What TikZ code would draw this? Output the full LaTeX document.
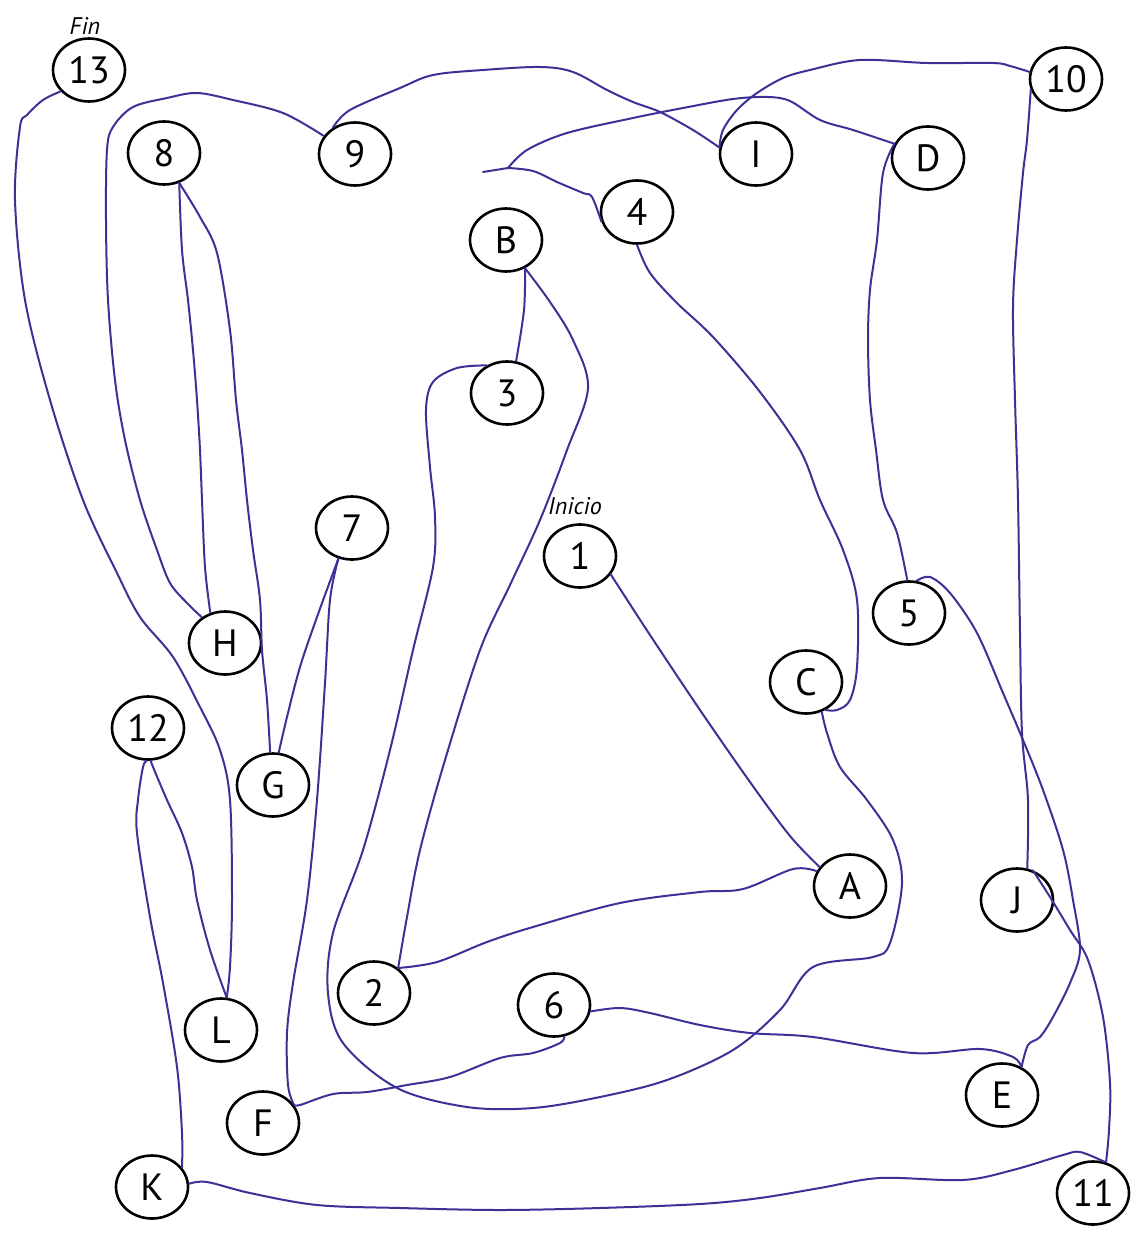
\documentclass[tikz,border=0pt]{standalone}
\usepackage{fontspec}
\setmainfont{PT Sans}
\usetikzlibrary{shapes.geometric}
\definecolor{ink}{RGB}{58,50,150}
\begin{document}
\begin{tikzpicture}[x=1pt,y=-1pt,
  circ/.style={draw=black,line width=2.6pt,ellipse,inner sep=0pt,minimum width=72pt,minimum height=63pt,font=\fontsize{38}{38}\selectfont},
  lbl/.style={font=\itshape\fontsize{24}{24}\selectfont,inner sep=0pt},
  pen/.style={draw=ink,line width=2pt,line cap=round,line join=round}]
\useasboundingbox[fill=white] (0,0) rectangle (1136,1236);
% nodes
\node[circ] (n13) at (89,70) {13};
\node[circ] (n8) at (164,153) {8};
\node[circ] (n9) at (355,154) {9};
\node[circ] (nI) at (756,154) {I};
\node[circ] (nD) at (928,158) {D};
\node[circ] (n10) at (1066,79) {10};
\node[circ] (n4) at (637,212) {4};
\node[circ] (nB) at (506,240) {B};
\node[circ] (n3) at (507,393) {3};
\node[circ] (n7) at (352,528) {7};
\node[circ] (n1) at (580,556) {1};
\node[circ] (n5) at (909,613) {5};
\node[circ] (nH) at (225,643) {H};
\node[circ] (nC) at (806,682) {C};
\node[circ] (n12) at (148,728) {12};
\node[circ] (nG) at (273,785) {G};
\node[circ] (nA) at (850,886) {A};
\node[circ] (nJ) at (1017,900) {J};
\node[circ] (n2) at (374,993) {2};
\node[circ] (n6) at (554,1005) {6};
\node[circ] (nL) at (221,1030) {L};
\node[circ] (nE) at (1002,1095) {E};
\node[circ] (nF) at (263,1123) {F};
\node[circ] (nK) at (152,1187) {K};
\node[circ] (n11) at (1093,1193) {11};
\node[lbl] (fin) at (85,26) {Fin};
\node[lbl] (inicio) at (575,506) {Inicio};
\coordinate (j4) at (508,168);
\coordinate (t4) at (483,172);
% path
\draw[pen] plot[smooth,tension=0.55] coordinates {(n1.-31) (650,635) (700,710) (750,782) (790,836) (nA.148)};
\draw[pen] plot[smooth,tension=0.55] coordinates {(nA.156) (793,869) (743,889) (700,892) (620,903) (533,927) (487,942) (437,962) (n2.46)};
\draw[pen] plot[smooth,tension=0.55] coordinates {(n2.46) (407,917) (420,850) (445,760) (480,650) (510,585) (540,520) (567,450) (588,388) (573,340) (550,302) (nB.-56)};
\draw[pen] plot[smooth,tension=0.55] coordinates {(nB.-56) (524,310) (n3.74)};
\draw[pen] plot[smooth,tension=0.55] coordinates {(n3.126) (457,368) (433,382) (426,410) (430,467) (435,517) (433,567) (413,650) (390,750) (363,850) (333,933) (328,993) (343,1043) (397,1088) (467,1107) (533,1108) (600,1097) (667,1080) (733,1050) (780,1010) (813,967) (873,957) (890,943) (902,883) (893,840) (867,800) (840,767) (827,733) (nC.-62)};
\draw[pen] plot[smooth,tension=0.55] coordinates {(nC.-55) (837,710) (850,700) (857,667) (857,600) (843,550) (820,500) (800,450) (760,392) (713,337) (677,303) (650,273) (n4.-90)};
\draw[pen] plot[smooth,tension=0.55] coordinates {(n4.195) (592,197) (583,193) (557,182) (533,171) (j4)};
\draw[pen] (j4) -- (t4);
\draw[pen] plot[smooth,tension=0.55] coordinates {(j4) (527,150) (567,133) (633,118) (683,108) (733,99) (767,97) (790,101) (820,120) (853,130) (nD.157)};
\draw[pen] plot[smooth,tension=0.55] coordinates {(nD.157) (883,173) (877,240) (870,290) (868,340) (870,400) (876,450) (883,500) (897,533) (n5.93)};
\draw[pen] plot[smooth,tension=0.55] coordinates {(n5.77) (930,577) (950,593) (977,633) (1003,693) (1023,740) (1043,790) (1063,850) (1073,900) (1080,950) (1070,983) (1053,1017) (1040,1037) (1028,1045) (nE.55)};
\draw[pen] plot[smooth,tension=0.55] coordinates {(nE.55) (1013,1057) (980,1049) (913,1053) (813,1037) (750,1033) (700,1025) (650,1013) (620,1008) (n6.-10)};
\draw[pen] plot[smooth,tension=0.55] coordinates {(n6.-72) (560,1043) (533,1053) (500,1058) (450,1077) (407,1085) (367,1092) (333,1094) (300,1105) (nF.31)};
\draw[pen] plot[smooth,tension=0.55] coordinates {(nF.31) (288,1085) (287,1033) (293,983) (307,900) (317,800) (325,683) (330,600) (n7.-114)};
\draw[pen] plot[smooth,tension=0.55] coordinates {(n7.-114) (317,617) (300,667) (287,717) (nG.80)};
\draw[pen] plot[smooth,tension=0.55] coordinates {(nG.95) (267,700) (262,650) (260,600) (253,550) (247,500) (242,450) (236,400) (230,330) (217,253) (200,217) (n8.-63)};
\draw[pen] plot[smooth,tension=0.55] coordinates {(n8.-63) (182,250) (188,300) (193,350) (197,400) (200,450) (202,500) (205,567) (nH.116)};
\draw[pen] plot[smooth,tension=0.55] coordinates {(nH.132) (187,603) (170,583) (157,550) (140,500) (125,440) (115,380) (108,300) (106,220) (107,150) (113,127) (133,107) (167,98) (197,93) (233,100) (283,113) (n9.150)};
\draw[pen] plot[smooth,tension=0.55] coordinates {(n9.130) (350,110) (400,88) (433,75) (483,70) (540,67) (573,72) (607,90) (633,102) (660,112) (693,130) (nI.170)};
\draw[pen] plot[smooth,tension=0.55] coordinates {(nI.170) (723,130) (737,110) (757,93) (783,78) (810,70) (860,60) (927,63) (993,63) (1010,66) (n10.169)};
\draw[pen] plot[smooth,tension=0.55] coordinates {(n10.197) (1027,140) (1023,173) (1017,240) (1013,307) (1015,400) (1018,500) (1020,633) (1022,733) (1028,800) (nJ.72)};
\draw[pen] plot[smooth,tension=0.55] coordinates {(nJ.62) (1050,897) (1070,930) (1088,960) (1103,1017) (1110,1083) (1109,1130) (n11.67)};
\draw[pen] plot[smooth,tension=0.55] coordinates {(n11.70) (1080,1152) (1063,1155) (1013,1170) (963,1180) (880,1178) (820,1188) (760,1198) (700,1204) (600,1208) (500,1210) (400,1208) (317,1205) (250,1193) (207,1182) (nK.5)};
\draw[pen] plot[smooth,tension=0.55] coordinates {(nK.33) (182,1133) (177,1067) (163,983) (150,917) (137,833) (138,800) (143,767) (n12.-92)};
\draw[pen] plot[smooth,tension=0.55] coordinates {(n12.-85) (153,767) (167,800) (182,833) (192,867) (197,900) (210,950) (nL.80)};
\draw[pen] plot[smooth,tension=0.55] coordinates {(nL.80) (230,967) (232,900) (230,800) (220,750) (200,707) (173,657) (140,617) (117,573) (83,500) (50,400) (25,300) (15,200) (20,127) (27,115) (43,100) (n13.217)};
\end{tikzpicture}
\end{document}
